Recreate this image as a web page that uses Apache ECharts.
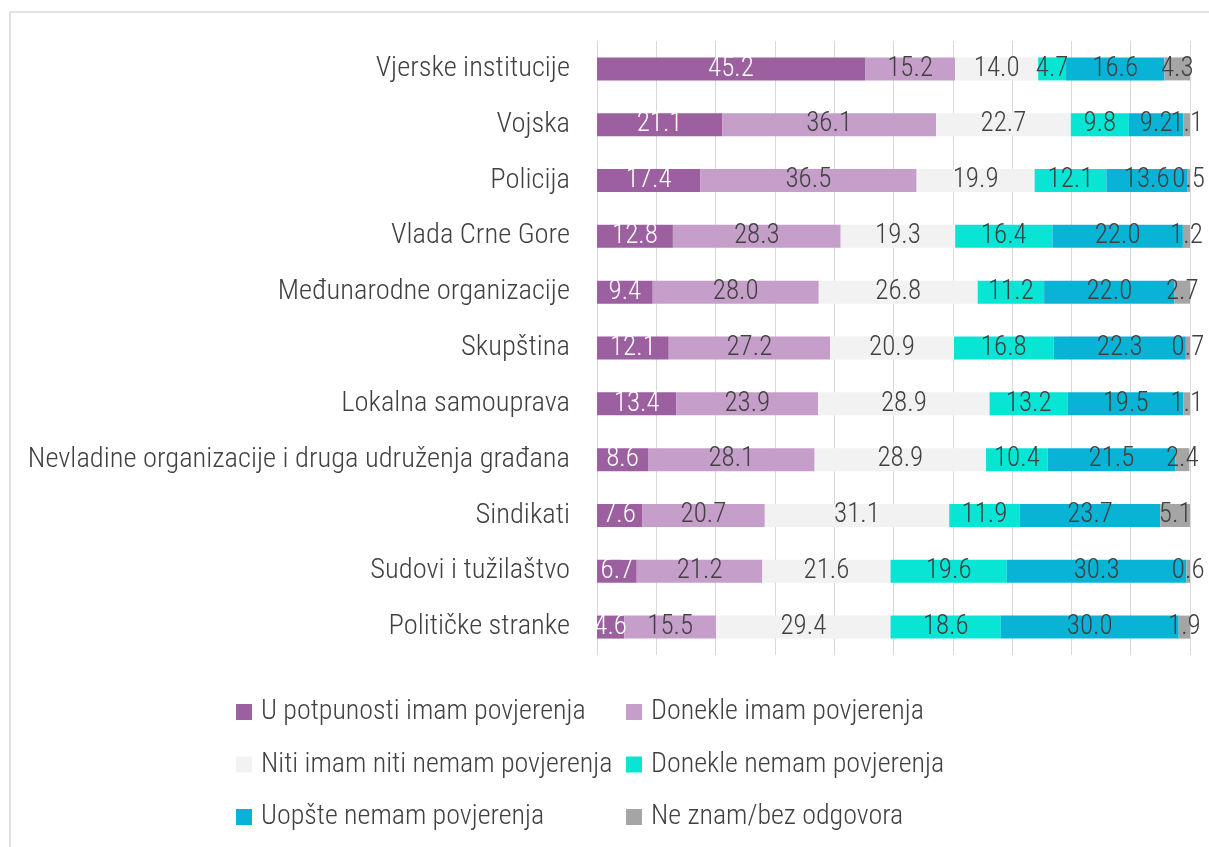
<!DOCTYPE html>
<html>
<head>
<meta charset="utf-8">
<script src="https://cdn.jsdelivr.net/npm/echarts@6/dist/echarts.min.js"></script>
<style>html,body{margin:0;padding:0;background:#fff;}#c{width:1209px;height:847px;}</style>
</head>
<body>
<div id="c"></div>
<script>
const categories = ['Vjerske institucije','Vojska','Policija','Vlada Crne Gore','Međunarodne organizacije','Skupština','Lokalna samouprava','Nevladine organizacije i druga udruženja građana','Sindikati','Sudovi i tužilaštvo','Političke stranke'];
const seriesNames = ['U potpunosti imam povjerenja','Donekle imam povjerenja','Niti imam niti nemam povjerenja','Donekle nemam povjerenja','Uopšte nemam povjerenja','Ne znam/bez odgovora'];
const uPotpunosti = [45.2,21.1,17.4,12.8,9.4,12.1,13.4,8.6,7.6,6.7,4.6];
const donekleImam = [15.2,36.1,36.5,28.3,28.0,27.2,23.9,28.1,20.7,21.2,15.5];
const nitiNiti = [14.0,22.7,19.9,19.3,26.8,20.9,28.9,28.9,31.1,21.6,29.4];
const donekleNemam = [4.7,9.8,12.1,16.4,11.2,16.8,13.2,10.4,11.9,19.6,18.6];
const uopsteNemam = [16.6,9.2,13.6,22.0,22.0,22.3,19.5,21.5,23.7,30.3,30.0];
const neZnam = [4.3,1.1,0.5,1.2,2.7,0.7,1.1,2.4,5.1,0.6,1.9];
const colors = ['#9C5FA0','#C59FC9','#F2F2F2','#08E5D5','#09B3D6','#A5A5A5'];
const FONT = '"Roboto Condensed", "Liberation Sans Narrow", "DejaVu Sans Condensed", sans-serif';
const allData = [uPotpunosti, donekleImam, nitiNiti, donekleNemam, uopsteNemam, neZnam];

const chart = echarts.init(document.getElementById('c'), null, {renderer:'canvas'});
const series = allData.map((d,i)=>({
  name: seriesNames[i],
  type: 'bar',
  stack: 'total',
  barWidth: 23,
  data: d,
  itemStyle: {color: colors[i]},
  label: {
    show: true,
    position: 'inside',
    formatter: p => p.value.toFixed(1),
    color: i===0 ? '#FFFFFF' : '#404040',
    fontFamily: FONT,
    fontWeight: 300,
    fontSize: 27
  },
  emphasis: {disabled: true}
}));

const legendText = {color: '#404040', fontFamily: FONT, fontWeight: 300, fontSize: 28, lineHeight: 28, padding:[0,0,0,4]};
chart.setOption({
  backgroundColor: '#ffffff',
  animation: false,
  textStyle: {fontFamily: FONT},
  graphic: [{
    type: 'rect',
    shape: {x: 10, y: 12, width: 1300, height: 900},
    style: {fill: 'none', stroke: '#D9D9D9', lineWidth: 1.5},
    z: -1
  }],
  grid: {left: 597, right: 19, top: 41, height: 614, containLabel: false},
  xAxis: {
    type: 'value', min: 0, max: 100, interval: 10,
    axisLabel: {show: false},
    axisLine: {show: false},
    axisTick: {show: false},
    splitLine: {show: true, lineStyle: {color: '#D9D9D9', width: 1}}
  },
  yAxis: {
    type: 'category', data: categories, inverse: true,
    axisLine: {show: false}, axisTick: {show: false},
    axisLabel: {color: '#404040', fontFamily: FONT, fontWeight: 300, fontSize: 28.5, margin: 27}
  },
  legend: [{
    orient: 'vertical', left: 231, top: 693, itemGap: 24.5,
    itemWidth: 16, itemHeight: 16, icon: 'rect',
    data: [seriesNames[0], seriesNames[2], seriesNames[4]],
    textStyle: legendText
  },{
    orient: 'vertical', left: 621, top: 693, itemGap: 24.5,
    itemWidth: 16, itemHeight: 16, icon: 'rect',
    data: [seriesNames[1], seriesNames[3], seriesNames[5]],
    textStyle: legendText
  }],
  series: series
});
</script>
</body>
</html>
